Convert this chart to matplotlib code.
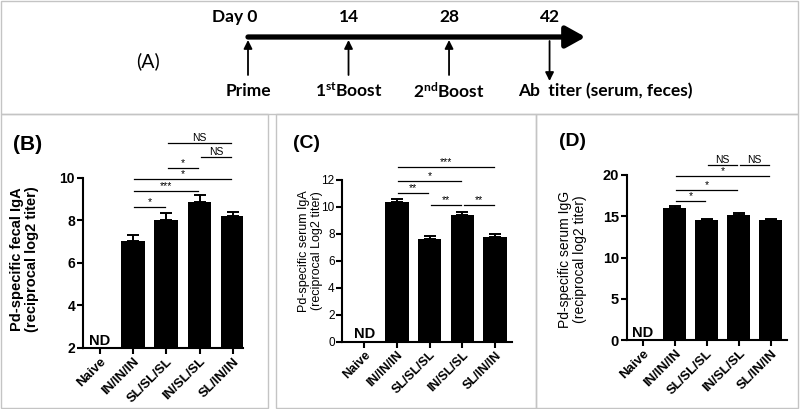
import numpy as np
import matplotlib.pyplot as plt
from matplotlib.patches import Rectangle

plt.rcParams['font.family'] = ['Liberation Sans', 'DejaVu Sans']
plt.rcParams['mathtext.fontset'] = 'custom'
plt.rcParams['mathtext.rm'] = 'Lato:bold'
plt.rcParams['mathtext.bf'] = 'Lato:bold'
plt.rcParams['mathtext.it'] = 'Lato:bold'
plt.rcParams['mathtext.default'] = 'bf'

# ---- data ----
groups = ["Naive", "IN/IN/IN", "SL/SL/SL", "IN/SL/SL", "SL/IN/IN"]

fecal_iga = [np.nan, 7.0, 8.0, 8.85, 8.2]
fecal_iga_err = [0, 0.3, 0.32, 0.32, 0.18]
serum_iga = [np.nan, 10.4, 7.6, 9.4, 7.8]
serum_iga_err = [0, 0.2, 0.25, 0.25, 0.2]
serum_igg = [np.nan, 16.0, 14.5, 15.2, 14.55]
serum_igg_err = [0, 0.25, 0.12, 0.15, 0.1]

# (group a, group b, bracket height, label)
fecal_sig = [(1, 2, 8.64, "*"), (1, 3, 9.37, "***"), (1, 4, 9.95, "*"),
             (2, 3, 10.47, "*"), (3, 4, 10.99, "NS"), (2, 4, 11.62, "NS")]
iga_sig = [(1, 2, 11.0, "**"), (1, 3, 11.95, "*"), (1, 4, 12.93, "***"),
           (2, 3, 10.15, "**"), (3, 4, 10.15, "**")]
igg_sig = [(1, 2, 16.8, "*"), (1, 3, 18.2, "*"), (1, 4, 19.9, "*"),
           (2, 3, 21.2, "NS"), (3, 4, 21.2, "NS")]

days = [0, 14, 28, 42]
day_labels = ["Day 0", "14", "28", "42"]
events = ["Prime", "1$^{st}$Boost", "2$^{nd}$Boost", "Ab  titer (serum, feces)"]

W, H = 800, 409
fig = plt.figure(figsize=(8, 4.09), dpi=100)

# background axes in pixel coords for frames and panel letters
bg = fig.add_axes([0, 0, 1, 1], zorder=-1)
bg.set_xlim(0, W)
bg.set_ylim(H, 0)
bg.axis("off")
for (x0, y0, x1, y1) in [(1, 1, 798, 114), (1, 114, 268, 408),
                         (276, 114, 536, 408), (536, 114, 798, 408)]:
    bg.add_patch(Rectangle((x0, y0), x1 - x0, y1 - y0, fill=False,
                           ec="#c4c4c4", lw=1))
bg.text(28, 145, "(B)", fontsize=15, fontweight="bold", ha="center", va="center")
bg.text(307, 143, "(C)", fontsize=14, fontweight="bold", ha="center", va="center")
bg.text(573, 141, "(D)", fontsize=14, fontweight="bold", ha="center", va="center")

# ---- timeline (A) ----
px_per_day = 7.18
x_day0 = 248
ta = fig.add_axes([0, 1 - 114 / H, 1, 114 / H])
ta.set_xlim(-x_day0 / px_per_day, (W - x_day0) / px_per_day)
ta.set_ylim(114, 0)
ta.axis("off")
tfont = dict(family=["Lato", "DejaVu Sans"], fontweight="bold", fontsize=12.5)
ta.annotate("", xy=(47.0, 37), xytext=(days[0], 37),
            arrowprops=dict(arrowstyle="-|>,head_length=0.9,head_width=0.5",
                            lw=3.8, color="black", mutation_scale=13,
                            shrinkA=0, shrinkB=0))
for d, lab, ev in zip(days, day_labels, events):
    if d == days[0]:
        ta.text(d + 1.3, 17, lab, ha="right", va="center", **tfont)
    else:
        ta.text(d, 17, lab, ha="center", va="center", **tfont)
    if d == days[-1]:
        ta.annotate("", xy=(d, 81), xytext=(d, 41),
                    arrowprops=dict(arrowstyle="-|>,head_length=0.5,head_width=0.25",
                                    lw=1.3, color="black", mutation_scale=10,
                                    shrinkA=0, shrinkB=0))
        ta.text(d - 4.4, 91, ev, ha="left", va="center", **tfont)
    else:
        ta.annotate("", xy=(d, 40), xytext=(d, 75),
                    arrowprops=dict(arrowstyle="-|>,head_length=0.5,head_width=0.25",
                                    lw=1.3, color="black", mutation_scale=10,
                                    shrinkA=0, shrinkB=0))
        ta.text(d, 91, ev, ha="center", va="center", **tfont)
ta.text(-13.9, 61, "(A)", ha="center", va="center",
        family=["Lato", "DejaVu Sans"], fontsize=14)


def px_rect(x0, x1, ytop, ybot):
    return [x0 / W, 1 - ybot / H, (x1 - x0) / W, (ybot - ytop) / H]


def bar_panel(rect, xlim, ylim, yticks, vals, errs, sig, ylabel, label_xy,
              tick_bold, label_bold, tick_fs, ylab_fs, xtick_fs, sig_fs):
    ax = fig.add_axes(rect)
    x = np.arange(len(groups))
    ax.bar(x, vals, width=0.72, color="black")
    ax.errorbar(x[1:], vals[1:], yerr=[np.zeros(len(x) - 1), errs[1:]],
                fmt="none", ecolor="black", elinewidth=1.4, capsize=4.5,
                capthick=1.4)
    ax.set_xlim(*xlim)
    ax.set_ylim(*ylim)
    ax.set_yticks(yticks)
    ax.set_xticks(x)
    ax.set_xticklabels(groups, rotation=45, ha="right", va="top",
                       rotation_mode="anchor", fontweight="bold",
                       fontsize=xtick_fs)
    for lab in ax.get_yticklabels():
        lab.set_fontsize(tick_fs)
        lab.set_fontweight("bold" if tick_bold else "normal")
    for s in ["top", "right"]:
        ax.spines[s].set_visible(False)
    for s in ["left", "bottom"]:
        ax.spines[s].set_linewidth(1.5)
    ax.tick_params(direction="out", length=4, width=1.5, pad=1.5)
    ax.set_ylabel(ylabel, fontsize=ylab_fs,
                  fontweight="bold" if label_bold else "normal", linespacing=1.1)
    ax.yaxis.set_label_coords(*label_xy)
    ax.text(0, ylim[0], "ND", ha="center", va="bottom", fontweight="bold",
            fontsize=10.5)
    for a, b, y, t in sig:
        ax.plot([a + 0.04, b - 0.04], [y, y], color="black", lw=0.9,
                clip_on=False)
        ax.text((a + b) / 2, y, t, ha="center", va="bottom", fontsize=sig_fs,
                clip_on=False)
    return ax


bar_panel(px_rect(82.7, 243.3, 177.7, 347.7), (-0.52, 4.32), (2, 10),
          [2, 4, 6, 8, 10], fecal_iga, fecal_iga_err, fecal_sig,
          "Pd-specific fecal IgA\n(reciprocal log2 titer)", (-0.27, 0.52),
          True, True, 10, 10.5, 9.5, 7.5)
bar_panel(px_rect(342.3, 511.7, 180, 341.5), (-0.67, 4.51), (0, 12),
          [0, 2, 4, 6, 8, 10, 12], serum_iga, serum_iga_err, iga_sig,
          "Pd-specific serum IgA\n(reciprocal Log2 titer)", (-0.115, 0.56),
          False, False, 8.5, 9, 9, 7.5)
bar_panel(px_rect(626.7, 786.7, 175, 340), (-0.5, 4.5), (0, 20),
          [0, 5, 10, 15, 20], serum_igg, serum_igg_err, igg_sig,
          "Pd-specific serum IgG\n(reciprocal log2 titer)", (-0.25, 0.49),
          True, False, 10.5, 10, 9.5, 7.5)

fig.savefig("out.png", dpi=100)
